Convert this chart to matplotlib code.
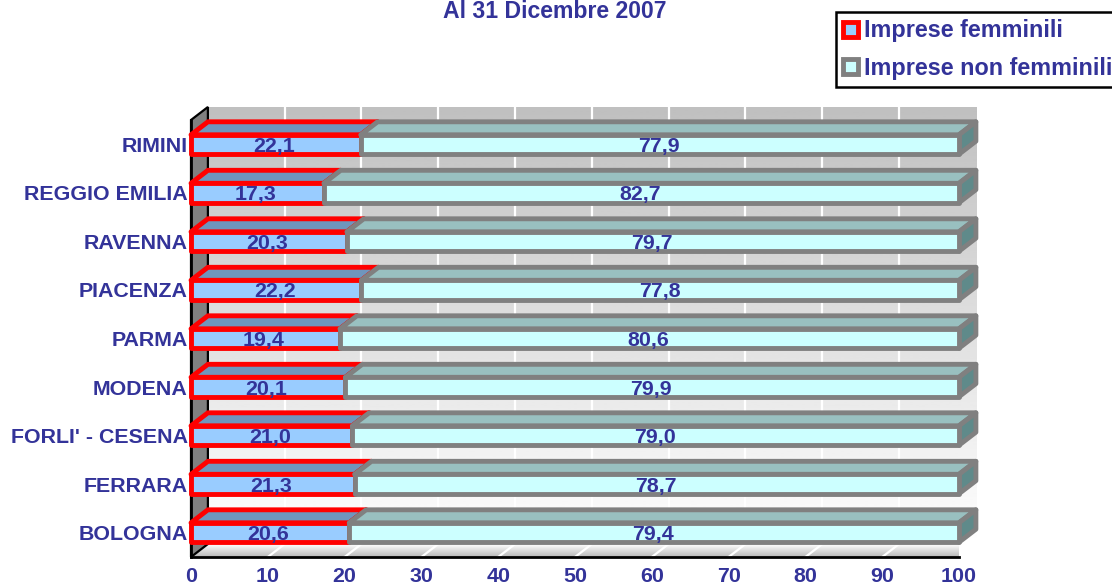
import numpy as np
import matplotlib
matplotlib.use("Agg")
import matplotlib.pyplot as plt
from matplotlib.patches import Patch, Polygon

plt.rcParams['font.family'] = ['Liberation Sans', 'DejaVu Sans']

province = ["BOLOGNA", "FERRARA", "FORLI' - CESENA", "MODENA", "PARMA",
            "PIACENZA", "RAVENNA", "REGGIO EMILIA", "RIMINI"]
femminili = [20.6, 21.3, 21.0, 20.1, 19.4, 22.2, 20.3, 17.3, 22.1]
non_femminili = [79.4, 78.7, 79.0, 79.9, 80.6, 77.8, 79.7, 82.7, 77.9]
x_ticks = [0, 10, 20, 30, 40, 50, 60, 70, 80, 90, 100]
title = "Al 31 Dicembre 2007"
series_names = ["Imprese femminili", "Imprese non femminili"]

TEXT = "#333399"
FONT = 15.4
W, H = 1112, 585
# the 3d look: how far back the walls and bars go, in data units
DX = 2.2
DY = 0.268
BAR_H = 0.40
Y0, Y1 = -0.505, 8.505


def draw_bar(ax, y, left, width, front, top, side, edge):
    right = left + width
    lo, hi = y - BAR_H / 2, y + BAR_H / 2
    style = dict(edgecolor=edge, linewidth=3.5, joinstyle="round", clip_on=False, zorder=3)
    ax.add_patch(Polygon([(left, hi), (right, hi), (right + DX, hi + DY), (left + DX, hi + DY)],
                         facecolor=top, **style))
    ax.add_patch(Polygon([(right, lo), (right + DX, lo + DY), (right + DX, hi + DY), (right, hi)],
                         facecolor=side, **style))
    ax.add_patch(Polygon([(left, lo), (right, lo), (right, hi), (left, hi)],
                         facecolor=front, **style))


fig = plt.figure(figsize=(W / 100, H / 100), dpi=100)
ax = fig.add_axes([191 / W, 1 - 557 / H, (959 - 191) / W, (557 - 120) / H])

# back wall and floor gradients
grad = np.linspace(0.75, 1, 256).reshape(-1, 1)
ax.imshow(grad, cmap="gray", vmin=0, vmax=1, aspect="auto", origin="upper", zorder=0,
          extent=(DX, 100 + DX, Y0 + DY, Y1 + DY), clip_on=False)
floor = Polygon([(0, Y0), (100, Y0), (100 + DX, Y0 + DY), (DX, Y0 + DY)],
                facecolor="none", edgecolor="none", zorder=0)
ax.add_patch(floor)
floor_img = ax.imshow(np.linspace(1, 0.72, 64).reshape(-1, 1), cmap="gray", vmin=0, vmax=1,
                      aspect="auto", origin="upper", zorder=0,
                      extent=(0, 100 + DX, Y0, Y0 + DY), clip_on=True)
floor_img.set_clip_path(floor)
ax.set_xlim(0, 100)
ax.set_ylim(Y0, Y1)

for t in x_ticks[1:-1]:
    ax.plot([t + DX, t + DX], [Y0 + DY, Y1 + DY], color="white", lw=1.6, zorder=1, clip_on=False)
    ax.plot([t, t + DX], [Y0, Y0 + DY], color="white", lw=1.6, zorder=1)

# left wall
ax.add_patch(Polygon([(0, Y0), (DX, Y0 + DY), (DX, Y1 + DY), (0, Y1)], facecolor="#808080",
                     edgecolor="black", linewidth=1.6, clip_on=False, zorder=1))

for i, (a, b) in enumerate(zip(femminili, non_femminili)):
    draw_bar(ax, i, 0, a, "#99ccff", "#6f96bd", "#6f96bd", "#ff0000")
    draw_bar(ax, i, a, b, "#ccffff", "#99c0c0", "#5f8a8a", "#808080")
    ax.text(a / 2 - 0.2, i, f"{a:.1f}".replace(".", ","), color=TEXT, fontsize=FONT, fontweight="bold",
            ha="center", va="center_baseline", zorder=5)
    ax.text(a + b / 2 - 0.1, i, f"{b:.1f}".replace(".", ","), color=TEXT, fontsize=FONT, fontweight="bold",
            ha="center", va="center_baseline", zorder=5)

for s in ["top", "right"]:
    ax.spines[s].set_visible(False)
ax.spines["left"].set_linewidth(2)
ax.spines["bottom"].set_linewidth(2)
ax.set_xticks(x_ticks)
ax.set_yticks(range(len(province)))
ax.set_yticklabels(province)
ax.tick_params(axis="x", length=0, pad=7, labelsize=FONT, labelcolor=TEXT)
ax.tick_params(axis="y", length=0, pad=2.5, labelsize=FONT, labelcolor=TEXT)
for lab in ax.get_xticklabels() + ax.get_yticklabels():
    lab.set_fontweight("bold")

fig.text(555 / W, 1 - 11.5 / H, title, color=TEXT, fontsize=FONT + 1.2, fontweight="bold", ha="center", va="center")

handles = [Patch(facecolor="#99ccff", edgecolor="#ff0000", linewidth=3.5),
           Patch(facecolor="#ccffff", edgecolor="#808080", linewidth=3.5)]
leg = fig.legend(handles, series_names, loc="upper left", bbox_to_anchor=(836 / W, 1 - 12 / H),
                 bbox_transform=fig.transFigure, fancybox=False, edgecolor="black", framealpha=1,
                 handlelength=0.63, handleheight=0.63, handletextpad=0.26, labelspacing=0.62,
                 borderpad=0.32, borderaxespad=0, prop=dict(size=16.8, weight="bold"))
leg.get_frame().set_linewidth(1.8)
for txt in leg.get_texts():
    txt.set_color(TEXT)

fig.savefig("out.png", dpi=100)
